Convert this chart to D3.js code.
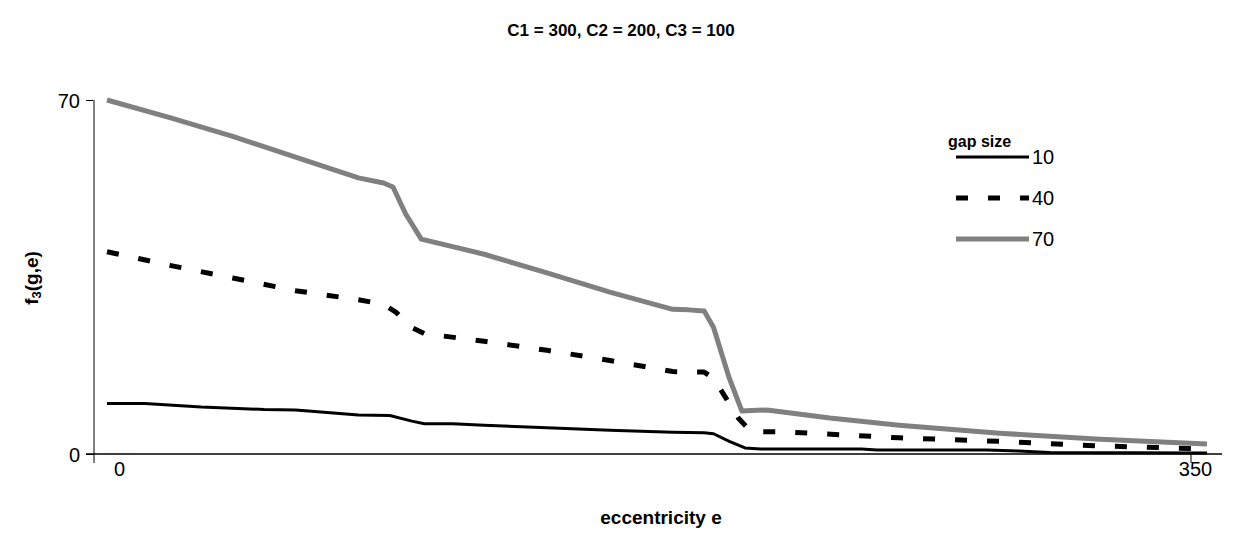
<!DOCTYPE html>
<head>
  <meta charset="utf-8">
  <script src="https://d3js.org/d3.v7.min.js"></script>
  <style>
    body { margin:0; background:#fff; }
    text { font-family: "Liberation Sans", Arial, sans-serif; fill:#000; }
    .bold { font-weight:bold; }
    .line { fill:none; stroke-linejoin:round; }
  </style>
</head>
<body>
  <svg id="chart" width="1242" height="556"></svg>
  <script>
  // values
  var seriesNames = ["10", "40", "70"];
  var gap10 = [[0,10],[12,10],[30,9.3],[50,8.8],[60,8.7],[80,7.7],[90,7.6],[97,6.5],[101,6.0],[110,6.0],
    [120,5.7],[140,5.2],[160,4.7],[180,4.3],[190,4.2],[193,4.0],[198,2.5],[203,1.2],[208,1.0],[240,1.0],
    [245,0.8],[280,0.8],[290,0.6],[300,0.3],[350,0.2]];
  var gap40 = [[0,40],[20,37.3],[40,34.8],[60,32.3],[80,30.5],[88,29.6],[92,28],[97,25],[101,23.8],
    [120,22.3],[140,20.5],[160,18.5],[180,16.3],[190,16.2],[193,15],[197,11],[201,7],[205,4.4],[215,4.4],
    [252,3.2],[284,2.5],[316,1.6],[350,1.0]];
  var gap70 = [[0,70],[20,66.5],[40,62.8],[60,58.7],[80,54.6],[88,53.6],[91,52.8],[95,47.5],[100,42.5],
    [102,42.2],[120,39.5],[140,35.8],[160,32],[180,28.6],[185,28.5],[190,28.3],[193,25],[198,15],[202,8.5],
    [205,8.6],[210,8.7],[230,7.1],[252,5.7],[284,4.1],[316,2.9],[350,2.0]];
  var xTicks = [0, 350];
  var yTicks = [0, 70];

  var svg = d3.select("#chart");

  var x = d3.scaleLinear().domain([0, 350]).range([107, 1207]);
  var xLab = d3.scaleLinear().domain([0, 350]).range([119, 1195]);
  var y = d3.scaleLinear().domain([0, 70]).range([454, 100]);

  // title
  svg.append("text").attr("class", "bold")
    .attr("x", 621).attr("y", 36).attr("text-anchor", "middle")
    .style("font-size", "17px")
    .text("C1 = 300, C2 = 200, C3 = 100");

  // y axis
  var yAxis = svg.append("g")
    .attr("transform", "translate(94,0)")
    .call(d3.axisLeft(y).tickValues(yTicks).tickSize(8).tickPadding(6));
  yAxis.select(".domain").remove();
  yAxis.selectAll(".tick line").attr("stroke", "#000");
  yAxis.selectAll("text").style("font-size", "20px").attr("dy", "0.35em");
  svg.append("line")
    .attr("x1", 94).attr("x2", 94).attr("y1", y(70)).attr("y2", y(0) + 9)
    .attr("stroke", "#808080").attr("stroke-width", 2);

  // x axis
  svg.append("line")
    .attr("x1", 86).attr("x2", 1222).attr("y1", y(0)).attr("y2", y(0))
    .attr("stroke", "#000").attr("stroke-width", 1.5);
  var xAxis = svg.append("g")
    .attr("transform", "translate(0," + y(0) + ")")
    .call(d3.axisBottom(xLab).tickValues(xTicks).tickSize(0).tickPadding(8));
  xAxis.select(".domain").remove();
  xAxis.selectAll("text").style("font-size", "20px");
  svg.append("line")
    .attr("x1", xLab(350) - 4).attr("x2", xLab(350) - 4)
    .attr("y1", y(0)).attr("y2", y(0) + 9)
    .attr("stroke", "#000").attr("stroke-width", 1);

  // axis titles
  svg.append("text").attr("class", "bold")
    .attr("x", 661).attr("y", 524).attr("text-anchor", "middle")
    .style("font-size", "19px").text("eccentricity e");
  var yt = svg.append("text").attr("class", "bold")
    .attr("transform", "translate(38,278) rotate(-90)")
    .attr("text-anchor", "middle").style("font-size", "19px");
  yt.append("tspan").text("f");
  yt.append("tspan").style("font-size", "13px").attr("dy", "3").text("3");
  yt.append("tspan").attr("dy", "-3").text("(g,e)");

  var line = d3.line()
    .x(function(d) { return x(d[0]); })
    .y(function(d) { return y(d[1]); });

  var styles = [
    { data: gap10, stroke: "#000", width: 3, dash: null },
    { data: gap40, stroke: "#000", width: 5, dash: "12,20" },
    { data: gap70, stroke: "#808080", width: 5, dash: null }
  ];

  styles.forEach(function(s) {
    svg.append("path")
      .attr("class", "line")
      .attr("d", line(s.data))
      .attr("stroke", s.stroke)
      .attr("stroke-width", s.width)
      .attr("stroke-dasharray", s.dash);
  });

  // legend
  var legend = svg.append("g").attr("transform", "translate(948,142)");
  legend.append("text").attr("class", "bold")
    .attr("x", 0).attr("y", 5).style("font-size", "16px").text("gap size");
  styles.forEach(function(s, i) {
    var ly = 15 + i * 41;
    legend.append("line")
      .attr("x1", 8).attr("x2", 81).attr("y1", ly).attr("y2", ly)
      .attr("stroke", s.stroke)
      .attr("stroke-width", s.width)
      .attr("stroke-dasharray", s.dash);
    legend.append("text")
      .attr("x", 84).attr("y", ly).attr("dy", "0.35em")
      .style("font-size", "20px").text(seriesNames[i]);
  });
  </script>
</body>
